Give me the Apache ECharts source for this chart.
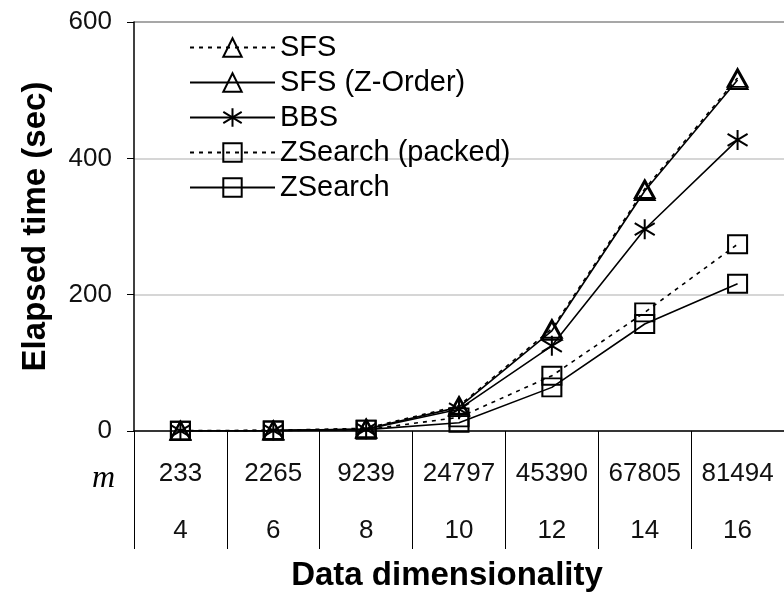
<!DOCTYPE html>
<html>
<head>
<meta charset="utf-8">
<script src="https://cdn.jsdelivr.net/npm/echarts@6/dist/echarts.min.js"></script>
<style>
html,body{margin:0;padding:0;background:#fff;}
#c{width:784px;height:597px;}
</style>
</head>
<body>
<div id="c"></div>
<script>
// ---- data ----
var dims = ['4', '6', '8', '10', '12', '14', '16'];
var mVals = ['233', '2265', '9239', '24797', '45390', '67805', '81494'];
var yTicks = [0, 200, 400, 600];
var sfs = [0.5, 1, 4, 37, 150, 355, 518];
var sfsZ = [0.4, 0.8, 3, 35, 147, 352, 515];
var bbs = [0.3, 0.7, 2.5, 32, 125, 296, 427];
var zPacked = [0.3, 0.6, 2, 20, 81, 174, 274];
var zSearch = [0.3, 0.6, 2, 12, 64, 157, 216];
var seriesNames = ['SFS', 'SFS (Z-Order)', 'BBS', 'ZSearch (packed)', 'ZSearch'];

var FONT = '"Liberation Sans", Arial, sans-serif';
var chart = echarts.init(document.getElementById('c'), null, {renderer: 'canvas'});

var star = 'path://M10,0 L10,20 M2,4 L18,16 M2,16 L18,4';
function mk(name, data, dashed, symbol, size) {
  return {
    name: name, type: 'line', data: data,
    symbol: symbol, symbolSize: size,
    showSymbol: true,
    lineStyle: {color: '#000', width: 1.6, type: dashed ? [4, 5] : 'solid'},
    itemStyle: {color: 'rgba(0,0,0,0)', borderColor: '#000', borderWidth: 2},
    emphasis: {disabled: true},
    animation: false
  };
}

var option = {
  animation: false,
  grid: {left: 134, top: 22, right: -4, bottom: 161, containLabel: false},
  legend: {
    orient: 'vertical', left: 184, top: 25,
    itemWidth: 85, itemHeight: 23, itemGap: 0,
    data: seriesNames,
    textStyle: {fontFamily: FONT, fontSize: 29, color: '#000', lineHeight: 35},
    inactiveColor: '#000'
  },
  xAxis: {
    type: 'category', data: dims, boundaryGap: true,
    axisLine: {lineStyle: {color: '#000', width: 1.5}},
    axisTick: {show: true, length: 118, alignWithLabel: false, lineStyle: {color: '#000', width: 1}},
    axisLabel: {
      margin: 14,
      interval: 0,
      formatter: function (v, i) { return '{a|' + mVals[i] + '}\n{a|' + v + '}'; },
      rich: {a: {fontFamily: FONT, fontSize: 26, color: '#111', lineHeight: 57, align: 'center'}}
    },
    name: 'Data dimensionality', nameLocation: 'middle', nameGap: 128,
    nameTextStyle: {fontFamily: FONT, fontSize: 33, fontWeight: 'bold', color: '#000', padding: [0, 24, 0, 0]}
  },
  yAxis: {
    type: 'value', min: 0, max: 600, interval: 200,
    axisLine: {show: true, lineStyle: {color: '#000', width: 1.5}},
    axisTick: {show: true, length: 7, lineStyle: {color: '#000', width: 1}},
    axisLabel: {margin: 22, fontFamily: FONT, fontSize: 26, color: '#111',
      formatter: function (v) { return yTicks.indexOf(v) >= 0 ? String(v) : ''; }},
    splitLine: {show: true, lineStyle: {color: ['#c8c8c8', '#c8c8c8', '#c8c8c8', '#8a8a8a'], width: 1.5}},
    name: 'Elapsed time (sec)', nameLocation: 'middle', nameGap: 82, nameRotate: 90,
    nameTextStyle: {fontFamily: FONT, fontSize: 33, fontWeight: 'bold', color: '#000'}
  },
  graphic: [{
    type: 'text', left: 92, top: 463,
    style: {text: 'm', font: 'italic 32px "Liberation Serif", "Times New Roman", serif', fill: '#000'}
  }],
  series: [
    mk(seriesNames[0], sfs, true, 'triangle', [20, 18]),
    mk(seriesNames[1], sfsZ, false, 'triangle', [20, 18]),
    mk(seriesNames[2], bbs, false, star, [20, 20]),
    mk(seriesNames[3], zPacked, true, 'rect', [19, 18]),
    mk(seriesNames[4], zSearch, false, 'rect', [19, 18])
  ]
};
chart.setOption(option);
</script>
</body>
</html>
